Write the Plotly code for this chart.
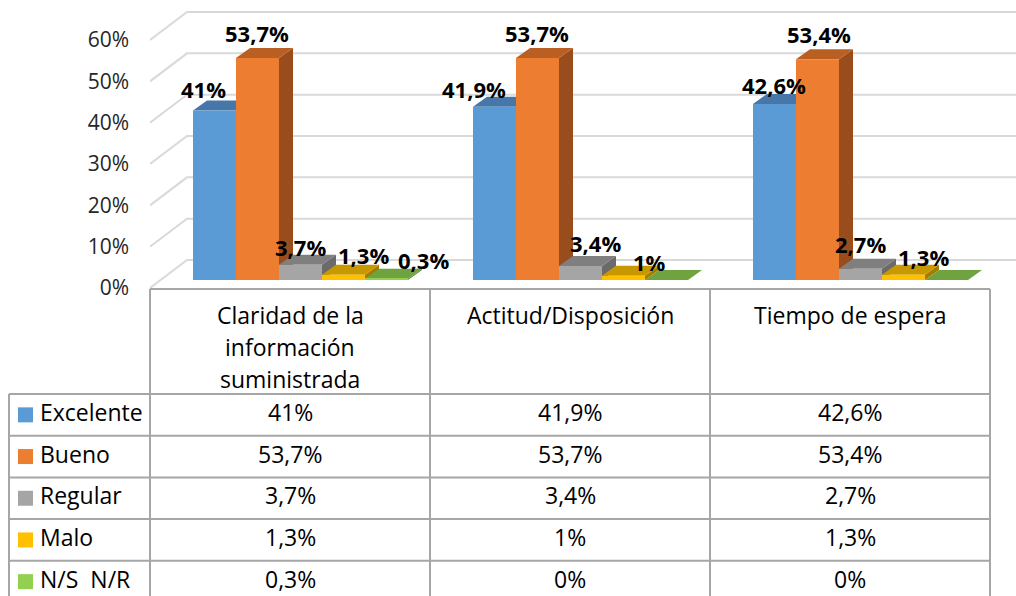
import plotly.graph_objects as go

# ---------------- data ----------------
categories = ["Claridad de la<br>información<br>suministrada", "Actitud/Disposición", "Tiempo de espera"]
series_names = ["Excelente", "Bueno", "Regular", "Malo", "N/S  N/R"]
excelente = [41.0, 41.9, 42.6]
bueno = [53.7, 53.7, 53.4]
regular = [3.7, 3.4, 2.7]
malo = [1.3, 1.0, 1.3]
ns_nr = [0.3, 0.0, 0.0]
y_ticks = [0, 10, 20, 30, 40, 50, 60]
y_tick_labels = ["0%", "10%", "20%", "30%", "40%", "50%", "60%"]

series_values = [excelente, bueno, regular, malo, ns_nr]

# ---------------- styles ----------------
front_colors = ["#5B9BD5", "#ED7D31", "#A5A5A5", "#FFC000", "#92D050"]
top_colors = ["#4677A8", "#BA5F22", "#7F7F7F", "#C89800", "#6FA340"]
side_colors = ["#3C6690", "#9A4D1C", "#6A6A6A", "#A47C00", "#5A8A33"]
FONT = "Open Sans"

# label tweaks (pixels) per series, per category
LABEL_DX = [[-11, -21, -1], [-1, -1, 1], [0, 15, 0], [20, 26, 20], [37, 0, 0]]
LABEL_DY = [[22, 18, 19], [25, 25, 25], [18, 23, 25], [20, 14, 18], [19, 0, 0]]

W, H = 1016, 596
X0_PX = 150.0     # left of front plane
Y0_PX = 288.0     # 0% on front plane
PX_X = 280.0      # pixels per category
PX_Y = 4.133      # pixels per percent


def dxu(px):
    return px / PX_X


def dyu(px):
    return px / PX_Y


BAR_W = dxu(43)
BAR_BASE = dyu(8)
DEPTH_X, DEPTH_Y = dxu(14), dyu(10)
WALL_X, WALL_Y = dxu(37), dyu(28)


def bar_offset(s):
    return -0.5 + dxu(43 + 43 * s)


def fmt(v):
    return f"{v:g}".replace(".", ",") + "%"


def px(x):
    return x / W


def py(y):
    return 1 - y / H


fig = go.Figure()

# back wall + side wall gridlines
gx, gy = [], []
n_cat = len(categories)
for v in y_ticks:
    gx += [-0.5, -0.5 + WALL_X, n_cat - 0.5 + WALL_X, None]
    gy += [v, v + WALL_Y, v + WALL_Y, None]
fig.add_trace(go.Scatter(x=gx, y=gy, mode="lines", line=dict(color="#D9D9D9", width=2),
                         hoverinfo="skip", showlegend=False))

# 3D faces (side + top) drawn through the data scales
for s, vals in enumerate(series_values):
    for c, v in enumerate(vals):
        xl = c + bar_offset(s)
        xr = xl + BAR_W
        yb = BAR_BASE
        yt = BAR_BASE + v
        if v > 0:
            fig.add_trace(go.Scatter(
                x=[xr, xr, xr + DEPTH_X, xr + DEPTH_X, xr],
                y=[yb, yt, yt + DEPTH_Y, yb + DEPTH_Y, yb],
                mode="lines", fill="toself", fillcolor=side_colors[s],
                line=dict(width=0, color=side_colors[s]), hoverinfo="skip", showlegend=False))
        fig.add_trace(go.Scatter(
            x=[xl, xr, xr + DEPTH_X, xl + DEPTH_X, xl],
            y=[yt, yt, yt + DEPTH_Y, yt + DEPTH_Y, yt],
            mode="lines", fill="toself", fillcolor=top_colors[s],
            line=dict(width=0, color=top_colors[s]), hoverinfo="skip", showlegend=False))

# front faces as real bars on an overlaid axis pair (drawn above the faces)
for s, vals in enumerate(series_values):
    fig.add_trace(go.Bar(
        x=list(range(n_cat)), y=vals, base=BAR_BASE, width=BAR_W, offset=bar_offset(s),
        marker=dict(color=front_colors[s], line=dict(width=0)), name=series_names[s],
        xaxis="x2", yaxis="y2", showlegend=False, hoverinfo="skip"))

annotations = []
# data labels
for s, vals in enumerate(series_values):
    for c, v in enumerate(vals):
        if v <= 0:
            continue
        annotations.append(dict(
            x=c + bar_offset(s) + BAR_W / 2, y=BAR_BASE + v, xref="x", yref="y",
            text=f"<b>{fmt(v)}</b>", showarrow=False, xanchor="center", yanchor="middle",
            xshift=LABEL_DX[s][c], yshift=LABEL_DY[s][c],
            font=dict(family=FONT, size=22, color="#000000")))

# ---------------- data table ----------------
TABLE_LEFT = 9
col_edges = [X0_PX + PX_X * i for i in range(n_cat + 1)]
HEADER_TOP, HEADER_BOTTOM = 289, 394
ROW_H = 41.7
TEXT_LIFT = 3
row_tops = [HEADER_BOTTOM + ROW_H * i for i in range(len(series_names) + 1)]
LINE = dict(color="#A6A6A6", width=2)
CELL_FONT = dict(family=FONT, size=23, color="#000000")
shapes = []
# header top (floor front edge)
shapes.append(dict(type="line", xref="paper", yref="paper", x0=px(col_edges[0]), x1=px(col_edges[-1]),
                   y0=py(HEADER_TOP), y1=py(HEADER_TOP), line=LINE))
for yt in row_tops[:-1]:
    shapes.append(dict(type="line", xref="paper", yref="paper", x0=px(TABLE_LEFT), x1=px(col_edges[-1]),
                       y0=py(yt), y1=py(yt), line=LINE))
shapes.append(dict(type="line", xref="paper", yref="paper", x0=px(TABLE_LEFT), x1=px(TABLE_LEFT),
                   y0=py(HEADER_BOTTOM), y1=0, line=LINE))
for xe in col_edges:
    shapes.append(dict(type="line", xref="paper", yref="paper", x0=px(xe), x1=px(xe),
                       y0=py(HEADER_TOP), y1=0, line=LINE))

# headers (one annotation per line for Excel-like spacing)
for c, cat in enumerate(categories):
    for li, line_txt in enumerate(cat.split("<br>")):
        annotations.append(dict(
            x=px(col_edges[c] + PX_X / 2), y=py(315 + 32 * li), xref="paper", yref="paper",
            text=line_txt, showarrow=False, xanchor="center", yanchor="middle",
            font=CELL_FONT))

# rows
for s, name in enumerate(series_names):
    yc = row_tops[s] + ROW_H / 2
    shapes.append(dict(type="rect", xref="paper", yref="paper",
                       x0=px(18), x1=px(33), y0=py(yc - 7.5), y1=py(yc + 7.5),
                       fillcolor=front_colors[s], line=dict(width=0)))
    annotations.append(dict(
        x=px(38), y=py(yc - TEXT_LIFT), xref="paper", yref="paper",
        text=name.replace("  ", "&nbsp; "),
        showarrow=False, xanchor="left", yanchor="middle", font=CELL_FONT))
    for c, v in enumerate(series_values[s]):
        annotations.append(dict(
            x=px(col_edges[c] + PX_X / 2), y=py(yc - TEXT_LIFT), xref="paper", yref="paper",
            text=fmt(v), showarrow=False, xanchor="center", yanchor="middle",
            font=CELL_FONT))

x_range = [-0.5, -0.5 + (W - X0_PX) / PX_X]
y_range = [(Y0_PX - H) / PX_Y, Y0_PX / PX_Y]

fig.update_layout(
    width=W, height=H, margin=dict(l=0, r=0, t=0, b=0),
    paper_bgcolor="white", plot_bgcolor="white", showlegend=False, hovermode=False,
    barmode="overlay",
    font=dict(family=FONT, color="#262626"),
    xaxis=dict(domain=[X0_PX / W, 1], range=x_range, visible=False, fixedrange=True),
    yaxis=dict(domain=[0, 1], range=y_range, tickvals=y_ticks, ticktext=y_tick_labels,
               showgrid=False, zeroline=False, showline=False, ticks="",
               ticklabelstandoff=20, tickfont=dict(family=FONT, size=21, color="#262626"),
               fixedrange=True),
    xaxis2=dict(overlaying="x", matches="x", domain=[X0_PX / W, 1], range=x_range,
                visible=False, anchor="y2"),
    yaxis2=dict(overlaying="y", matches="y", domain=[0, 1], range=y_range,
                visible=False, anchor="x2"),
    shapes=shapes, annotations=annotations,
)

fig.write_html(
    "out.html",
    config={"displayModeBar": False},
    post_script="document.body.style.margin='0';document.body.style.overflow='hidden';",
)
